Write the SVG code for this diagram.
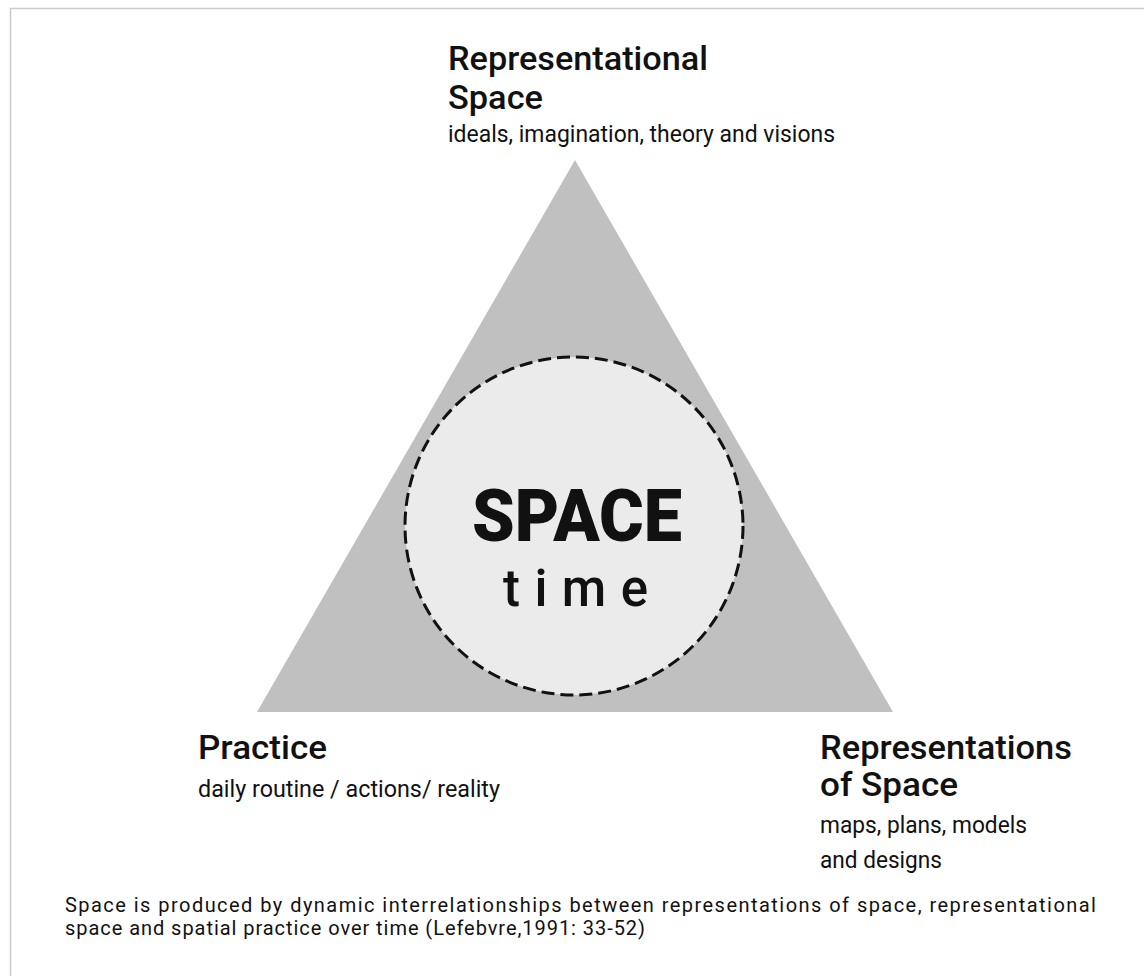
<svg xmlns="http://www.w3.org/2000/svg" width="1144" height="976" viewBox="0 0 1144 976">
<style>
.t{font-family:Roboto,"Liberation Sans",sans-serif;fill:#111;}
.title{font-size:33px;font-weight:500;}
.sub{font-size:23px;font-weight:400;}
.note{font-size:20px;font-weight:400;}
</style>
<rect x="0" y="0" width="1144" height="976" fill="#ffffff"/>
<rect x="10.5" y="8.5" width="1200" height="1000" fill="none" stroke="#cccccc" stroke-width="1.5"/>
<g id="triangle">
<polygon points="575,160 893,712 257,712" fill="#c0c0c0"/>
</g>
<g id="center">
<circle cx="574" cy="526" r="169" fill="#ebebeb" stroke="#111" stroke-width="3" stroke-dasharray="13 6"/>
<text class="t" x="577" y="541" text-anchor="middle" font-size="72" font-weight="900" textLength="210" lengthAdjust="spacingAndGlyphs">SPACE</text>
<text class="t" x="503" y="606" font-size="51" font-weight="500" textLength="145" lengthAdjust="spacing">time</text>
</g>
<g id="representational-space">
<text class="t title" x="448" y="70" textLength="260" lengthAdjust="spacingAndGlyphs">Representational</text>
<text class="t title" x="448" y="109" textLength="95" lengthAdjust="spacingAndGlyphs">Space</text>
<text class="t sub" x="448" y="142" textLength="387" lengthAdjust="spacingAndGlyphs">ideals, imagination, theory and visions</text>
</g>
<g id="practice">
<text class="t title" x="198" y="759" textLength="129" lengthAdjust="spacingAndGlyphs">Practice</text>
<text class="t sub" x="198" y="797" textLength="302" lengthAdjust="spacingAndGlyphs">daily routine / actions/ reality</text>
</g>
<g id="representations-of-space">
<text class="t title" x="820" y="759" textLength="252" lengthAdjust="spacingAndGlyphs">Representations</text>
<text class="t title" x="820" y="796" textLength="138" lengthAdjust="spacingAndGlyphs">of Space</text>
<text class="t sub" x="820" y="833" textLength="207" lengthAdjust="spacingAndGlyphs">maps, plans, models</text>
<text class="t sub" x="820" y="868" textLength="122" lengthAdjust="spacingAndGlyphs">and designs</text>
</g>
<g id="caption">
<text class="t note" x="65" y="912" textLength="1031" lengthAdjust="spacing">Space is produced by dynamic interrelationships between representations of space, representational</text>
<text class="t note" x="65" y="935" textLength="580" lengthAdjust="spacing">space and spatial practice over time (Lefebvre,1991: 33-52)</text>
</g>
<g id="connectors"></g>
</svg>
